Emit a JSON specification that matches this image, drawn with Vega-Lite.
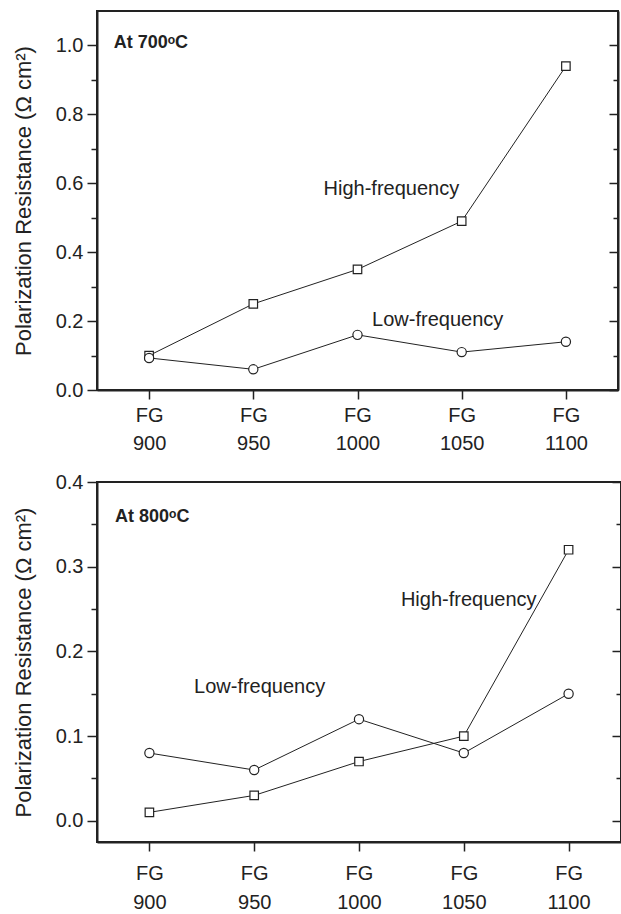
{
  "$schema": "https://vega.github.io/schema/vega-lite/v6.json",
  "padding": {"left": 11, "top": 10, "right": 0, "bottom": 0},
  "spacing": 92,
  "bounds": "flush",
  "config": {
    "font": "Liberation Sans",
    "view": {"stroke": "#222", "strokeWidth": 2},
    "axis": {"grid": false, "domainColor": "#222", "domainWidth": 2, "tickColor": "#222", "tickWidth": 1.5, "labelColor": "#222", "titleColor": "#222", "labelFont": "Liberation Sans", "titleFont": "Liberation Sans"},
    "text": {"font": "Liberation Sans", "color": "#222"}
  },
  "vconcat": [
    {
      "width": 521,
      "height": 379,
      "resolve": {"axis": {"y": "independent"}},
      "layer": [
        {
          "data": {"values": [
            {"fg": 900, "value": 0.10},
            {"fg": 950, "value": 0.25},
            {"fg": 1000, "value": 0.35},
            {"fg": 1050, "value": 0.49},
            {"fg": 1100, "value": 0.94}
          ]},
          "mark": {"type": "line", "color": "#222", "strokeWidth": 1, "point": {"shape": "square", "filled": true, "fill": "white", "stroke": "#222", "strokeWidth": 1.2, "size": 72, "opacity": 1}},
          "encoding": {
            "x": {"field": "fg", "type": "quantitative", "scale": {"domain": [875, 1125], "nice": false, "zero": false},
              "axis": {"values": [900, 950, 1000, 1050, 1100], "labelExpr": "['FG', '' + datum.value]", "tickSize": 9, "labelFontSize": 20, "labelLineHeight": 28, "labelPadding": 6, "title": null, "labelFlush": false}},
            "y": {"field": "value", "type": "quantitative", "scale": {"domain": [0, 1.1], "nice": false},
              "axis": {"values": [0, 0.1, 0.2, 0.3, 0.4, 0.5, 0.6, 0.7, 0.8, 0.9, 1.0],
                "labelExpr": "abs(round(datum.value*10))%2==0 ? format(datum.value,'.1f') : ''",
                "tickSize": {"condition": {"test": "abs(round(datum.value*10))%2==0", "value": 10}, "value": 6},
                "labelFontSize": 20, "labelPadding": 4, "title": "Polarization Resistance (Ω cm²)", "titleFontSize": 22, "titleFontWeight": "normal", "titlePadding": 20}}
          }
        },
        {
          "data": {"values": [
            {"fg": 900, "value": 0.093},
            {"fg": 950, "value": 0.06},
            {"fg": 1000, "value": 0.16},
            {"fg": 1050, "value": 0.11},
            {"fg": 1100, "value": 0.14}
          ]},
          "mark": {"type": "line", "color": "#222", "strokeWidth": 1, "point": {"shape": "circle", "filled": true, "fill": "white", "stroke": "#222", "strokeWidth": 1.2, "size": 85, "opacity": 1}},
          "encoding": {
            "x": {"field": "fg", "type": "quantitative"},
            "y": {"field": "value", "type": "quantitative",
              "axis": {"orient": "right", "values": [0, 0.1, 0.2, 0.3, 0.4, 0.5, 0.6, 0.7, 0.8, 0.9, 1.0], "labels": false, "title": null,
                "tickSize": {"condition": {"test": "abs(round(datum.value*10))%2==0", "value": -9}, "value": -5}}}
          }
        },
        {
          "data": {"values": [
            {"fg": 983.7, "value": 0.583, "label": "High-frequency"},
            {"fg": 1007, "value": 0.203, "label": "Low-frequency"}
          ]},
          "mark": {"type": "text", "align": "left", "baseline": "middle", "fontSize": 20},
          "encoding": {
            "x": {"field": "fg", "type": "quantitative"},
            "y": {"field": "value", "type": "quantitative", "axis": null},
            "text": {"field": "label"}
          }
        },
        {
          "data": {"values": [
            {"fg": 883, "value": 1.006, "label": "At 700ᵒC"}
          ]},
          "mark": {"type": "text", "align": "left", "baseline": "middle", "fontSize": 18, "fontWeight": "bold"},
          "encoding": {
            "x": {"field": "fg", "type": "quantitative"},
            "y": {"field": "value", "type": "quantitative", "axis": null},
            "text": {"field": "label"}
          }
        }
      ]
    },
    {
      "width": 524,
      "height": 360,
      "resolve": {"axis": {"y": "independent"}},
      "layer": [
        {
          "data": {"values": [
            {"fg": 900, "value": 0.01},
            {"fg": 950, "value": 0.03},
            {"fg": 1000, "value": 0.07},
            {"fg": 1050, "value": 0.10},
            {"fg": 1100, "value": 0.32}
          ]},
          "mark": {"type": "line", "color": "#222", "strokeWidth": 1, "point": {"shape": "square", "filled": true, "fill": "white", "stroke": "#222", "strokeWidth": 1.2, "size": 72, "opacity": 1}},
          "encoding": {
            "x": {"field": "fg", "type": "quantitative", "scale": {"domain": [875, 1125], "nice": false, "zero": false},
              "axis": {"values": [900, 950, 1000, 1050, 1100], "labelExpr": "['FG', '' + datum.value]", "tickSize": 9, "labelFontSize": 20, "labelLineHeight": 29, "labelPadding": 12, "title": null, "labelFlush": false}},
            "y": {"field": "value", "type": "quantitative", "scale": {"domain": [-0.025, 0.4], "nice": false},
              "axis": {"values": [0, 0.05, 0.1, 0.15, 0.2, 0.25, 0.3, 0.35, 0.4],
                "labelExpr": "abs(round(datum.value*20))%2==0 ? format(datum.value,'.1f') : ''",
                "tickSize": {"condition": {"test": "abs(round(datum.value*20))%2==0", "value": 10}, "value": 6},
                "labelFontSize": 20, "labelPadding": 4, "title": "Polarization Resistance (Ω cm²)", "titleFontSize": 22, "titleFontWeight": "normal", "titlePadding": 20}}
          }
        },
        {
          "data": {"values": [
            {"fg": 900, "value": 0.08},
            {"fg": 950, "value": 0.06},
            {"fg": 1000, "value": 0.12},
            {"fg": 1050, "value": 0.08},
            {"fg": 1100, "value": 0.15}
          ]},
          "mark": {"type": "line", "color": "#222", "strokeWidth": 1, "point": {"shape": "circle", "filled": true, "fill": "white", "stroke": "#222", "strokeWidth": 1.2, "size": 85, "opacity": 1}},
          "encoding": {
            "x": {"field": "fg", "type": "quantitative"},
            "y": {"field": "value", "type": "quantitative",
              "axis": {"orient": "right", "values": [0, 0.05, 0.1, 0.15, 0.2, 0.25, 0.3, 0.35, 0.4], "labels": false, "title": null,
                "tickSize": {"condition": {"test": "abs(round(datum.value*20))%2==0", "value": -9}, "value": -5}}}
          }
        },
        {
          "data": {"values": [
            {"fg": 1020, "value": 0.261, "label": "High-frequency"},
            {"fg": 921.3, "value": 0.158, "label": "Low-frequency"}
          ]},
          "mark": {"type": "text", "align": "left", "baseline": "middle", "fontSize": 20},
          "encoding": {
            "x": {"field": "fg", "type": "quantitative"},
            "y": {"field": "value", "type": "quantitative", "axis": null},
            "text": {"field": "label"}
          }
        },
        {
          "data": {"values": [
            {"fg": 883.6, "value": 0.359, "label": "At 800ᵒC"}
          ]},
          "mark": {"type": "text", "align": "left", "baseline": "middle", "fontSize": 18, "fontWeight": "bold"},
          "encoding": {
            "x": {"field": "fg", "type": "quantitative"},
            "y": {"field": "value", "type": "quantitative", "axis": null},
            "text": {"field": "label"}
          }
        }
      ]
    }
  ]
}
